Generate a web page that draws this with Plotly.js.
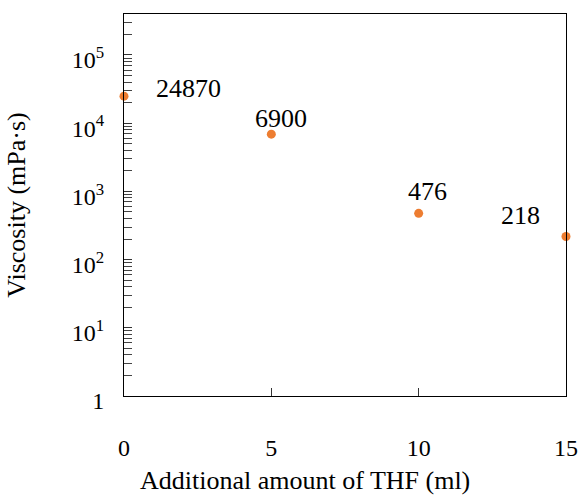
<!DOCTYPE html>
<html>
<head>
<meta charset="utf-8">
<script src="https://cdn.plot.ly/plotly-3.0.1.min.js"></script>
<style>
html,body{margin:0;padding:0;background:#fff;}
#chart{width:584px;height:495px;}
</style>
</head>
<body>
<div id="chart"></div>
<script>
// Data
var thfAmount = [0, 5, 10, 15];
var viscosity = [24870, 6900, 476, 218];
var pointLabels = ["24870", "6900", "476", "218"];
var xTickVals = [0, 5, 10, 15];
var xTickText = ["0", "5", "10", "15"];
var yTickVals = [1, 10, 100, 1000, 10000, 100000];
var yTickText = ["1", "10<sup>1</sup>", "10<sup>2</sup>", "10<sup>3</sup>", "10<sup>4</sup>", "10<sup>5</sup>"];
var xTitle = "Additional amount of THF (ml)";
var yTitle = "Viscosity (mPa·s)";

// label offsets (style only)
var labelShiftX = [64, 10, 9, -46];
var labelShiftY = [8, 16, 22, 21];

var FONT = "'Liberation Serif', 'Times New Roman', serif";

var annotations = thfAmount.map(function (x, i) {
  return {
    x: x, y: Math.log10(viscosity[i]), xref: "x", yref: "y",
    text: pointLabels[i], showarrow: false,
    xshift: labelShiftX[i], yshift: labelShiftY[i],
    font: {family: FONT, size: 26, color: "#000"}
  };
});
// x-axis title (sits left of the plot centre in the reference)
annotations.push({
  x: 0.41, y: -0.2225, xref: "paper", yref: "paper",
  xanchor: "center", yanchor: "middle",
  text: xTitle, showarrow: false,
  font: {family: FONT, size: 26, color: "#000"}
});

var trace = {
  x: thfAmount, y: viscosity, type: "scatter", mode: "markers",
  marker: {color: "#ED7D31", size: 9},
  cliponaxis: false, hoverinfo: "none"
};

var layout = {
  width: 584, height: 495,
  margin: {l: 124, r: 18, t: 14, b: 99},
  paper_bgcolor: "#fff", plot_bgcolor: "#fff",
  showlegend: false,
  font: {family: FONT, size: 24, color: "#000"},
  xaxis: {
    range: [0, 15], tickmode: "array", tickvals: xTickVals, ticktext: xTickText,
    ticks: "inside", ticklen: 8, tickcolor: "#333", tickwidth: 1,
    showline: true, mirror: true, linecolor: "#000", linewidth: 1,
    showgrid: false, zeroline: false,
    ticklabelstandoff: 30,
    tickfont: {family: FONT, size: 24, color: "#000"}
  },
  yaxis: {
    type: "log", range: [0, 5.6],
    tickmode: "array", tickvals: yTickVals, ticktext: yTickText,
    ticks: "inside", ticklen: 8, tickcolor: "#333", tickwidth: 1,
    minor: {dtick: "D1", ticks: "inside", ticklen: 8, tickcolor: "#444", tickwidth: 1, showgrid: false},
    showline: true, mirror: true, linecolor: "#000", linewidth: 1,
    showgrid: false, zeroline: false,
    ticklabelstandoff: 14,
    ticklabelshift: 5,
    tickfont: {family: FONT, size: 24, color: "#000"},
    title: {text: yTitle, font: {family: FONT, size: 26, color: "#000"}, standoff: 38}
  },
  annotations: annotations
};

Plotly.newPlot("chart", [trace], layout, {displayModeBar: false, staticPlot: true});
</script>
</body>
</html>
